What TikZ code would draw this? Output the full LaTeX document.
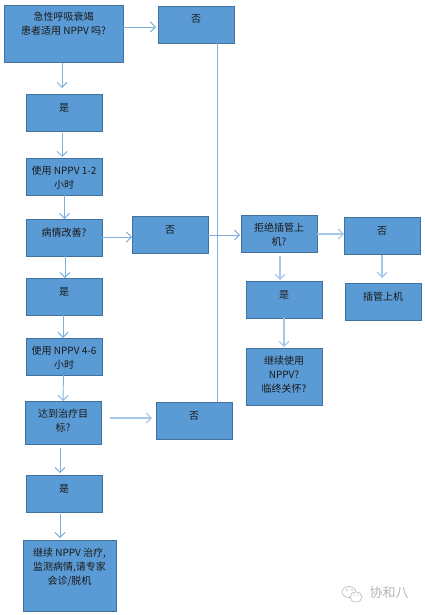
\documentclass[tikz,border=0pt]{standalone}
\usepackage{fontspec}
\setmainfont{Noto Sans CJK SC}
\usepackage{tikz}
\usetikzlibrary{arrows.meta, positioning, calc}
\definecolor{boxfill}{HTML}{5B9BD5}
\definecolor{boxline}{HTML}{41719C}
\definecolor{linkline}{HTML}{7FB1E0}
\definecolor{paleline}{HTML}{A6C8E8}
\definecolor{markgray}{HTML}{B4B4B4}

\begin{document}
\begin{tikzpicture}[
        x=1pt, y=-1pt,
        boxstep/.style={rectangle, draw=boxline, fill=boxfill, line width=.9pt, outer sep=0pt, minimum width=76pt, minimum height=37pt, anchor=north west, align=center, inner xsep=0pt, inner ysep=7pt, text=black!90, font=\fontsize{10}{14}\selectfont},
        onerow/.style={text height=10pt, text depth=13pt},
        tworow/.style={text height=23pt, text depth=0pt},
        threerow/.style={text height=37pt, text depth=6pt},
        link/.style={-{Straight Barb[length=5pt, width=10pt]}, draw=linkline, line width=.9pt},
        palelink/.style={link, draw=paleline, line width=1.1pt}
    ]
        \useasboundingbox (0,0) rectangle (424,615);

        % left column
        \node[boxstep, minimum width=119pt, minimum height=57pt, text height=23pt, text depth=20pt] (suit) at (4,5) {急性呼吸衰竭\\患者适用 NPPV 吗?};
        \node[boxstep, onerow] (yesa) at (26,94) {是};
        \node[boxstep, tworow] (usea) at (26,158) {使用 NPPV 1-2\\小时};
        \node[boxstep, onerow] (better) at (26,219) {病情改善?};
        \node[boxstep, onerow] (yesb) at (26,278) {是};
        \node[boxstep, tworow] (useb) at (26,338) {使用 NPPV 4-6\\小时};
        \node[boxstep, tworow, minimum height=43pt, text depth=6pt] (goal) at (25,401) {达到治疗目\\标?};
        \node[boxstep, onerow] (yesc) at (26,475) {是};
        \node[boxstep, threerow, minimum width=93pt, minimum height=71pt, text depth=20pt] (keep) at (23,540) {继续 NPPV 治疗,\\监测病情,请专家\\会诊/脱机};

        % middle column
        \node[boxstep, onerow] (noa) at (158,6) {否};
        \node[boxstep, onerow] (nob) at (132,216) {否};
        \node[boxstep, onerow] (noc) at (156,402) {否};

        % right side
        \node[boxstep, tworow] (refuse) at (241,215) {拒绝插管上\\机?};
        \node[boxstep, onerow] (nod) at (344,217) {否};
        \node[boxstep, onerow] (intub) at (345,283) {插管上机};
        \node[boxstep, onerow] (yesd) at (246,281) {是};
        \node[boxstep, threerow, minimum height=57pt] (care) at (246,348) {继续使用\\NPPV?\\临终关怀?};

        % connectors
        \draw[link] ([xshift=-1.5pt,yshift=-1pt]suit.south) -- ([xshift=-2pt,yshift=6pt]yesa.north);
        \draw[link] ([xshift=-2pt,yshift=-2pt]yesa.south) -- ([xshift=-2pt,yshift=1pt]usea.north);
        \draw[link] ([xshift=.5pt]usea.south) -- ([xshift=.5pt]better.north);
        \draw[link] ([xshift=1pt]better.south) -- ([xshift=1pt]yesb.north);
        \draw[link] ([xshift=-1pt]yesb.south) -- ([xshift=-1pt]useb.north);
        \draw[link] ([xshift=-.5pt]useb.south) -- (goal.north);
        \draw[link] ([xshift=-3pt,yshift=-4pt]goal.south) -- ([xshift=-4pt,yshift=2pt]yesc.north);
        \draw[link] ([xshift=-4pt,yshift=-2pt]yesc.south) -- ([xshift=-9.5pt,yshift=2pt]keep.north);
        \draw[link] ([yshift=6.5pt]suit.east) -- ([yshift=-2.5pt,xshift=-2pt]noa.west);
        \draw[link] ([yshift=.5pt]better.east) -- ([yshift=-2.5pt]nob.west);
        \draw[link] ([yshift=-.5pt]nob.east) -- ([yshift=-1.5pt,xshift=-1pt]refuse.west);
        \draw[palelink] ([xshift=9pt,yshift=4.5pt]goal.east) -- ([xshift=-4pt,yshift=2.5pt]noc.west);
        \draw[palelink] ([yshift=-.5pt]refuse.east) -- ([yshift=1.5pt]nod.west);
        \draw[palelink] ([xshift=1pt,yshift=-4pt]refuse.south) -- ([xshift=-4pt,yshift=1pt]yesd.north);
        \draw[palelink] (yesd.south) -- ([yshift=1pt]care.north);
        \draw[palelink] ([yshift=-1pt]nod.south) -- ([xshift=-1pt,yshift=5pt]intub.north);
        \draw[draw=linkline, line width=.9pt] ([xshift=21pt]noa.south) -- ([xshift=23pt]noc.north);

        % mark in the corner
        \begin{scope}[draw=markgray, line width=.6pt]
            \draw (349,592) ellipse (7pt and 5.5pt);
            \draw[fill=white] (356,597) ellipse (6pt and 5pt);
            \fill[markgray] (347,590) circle (.8pt) (352,590) circle (.8pt) (354,595) circle (.7pt) (358,595) circle (.7pt);
        \end{scope}
        \node[text=markgray, font=\fontsize{13}{15}\selectfont, inner sep=0pt] (mark) at (389,593) {协和八};
    \end{tikzpicture}
\end{document}
